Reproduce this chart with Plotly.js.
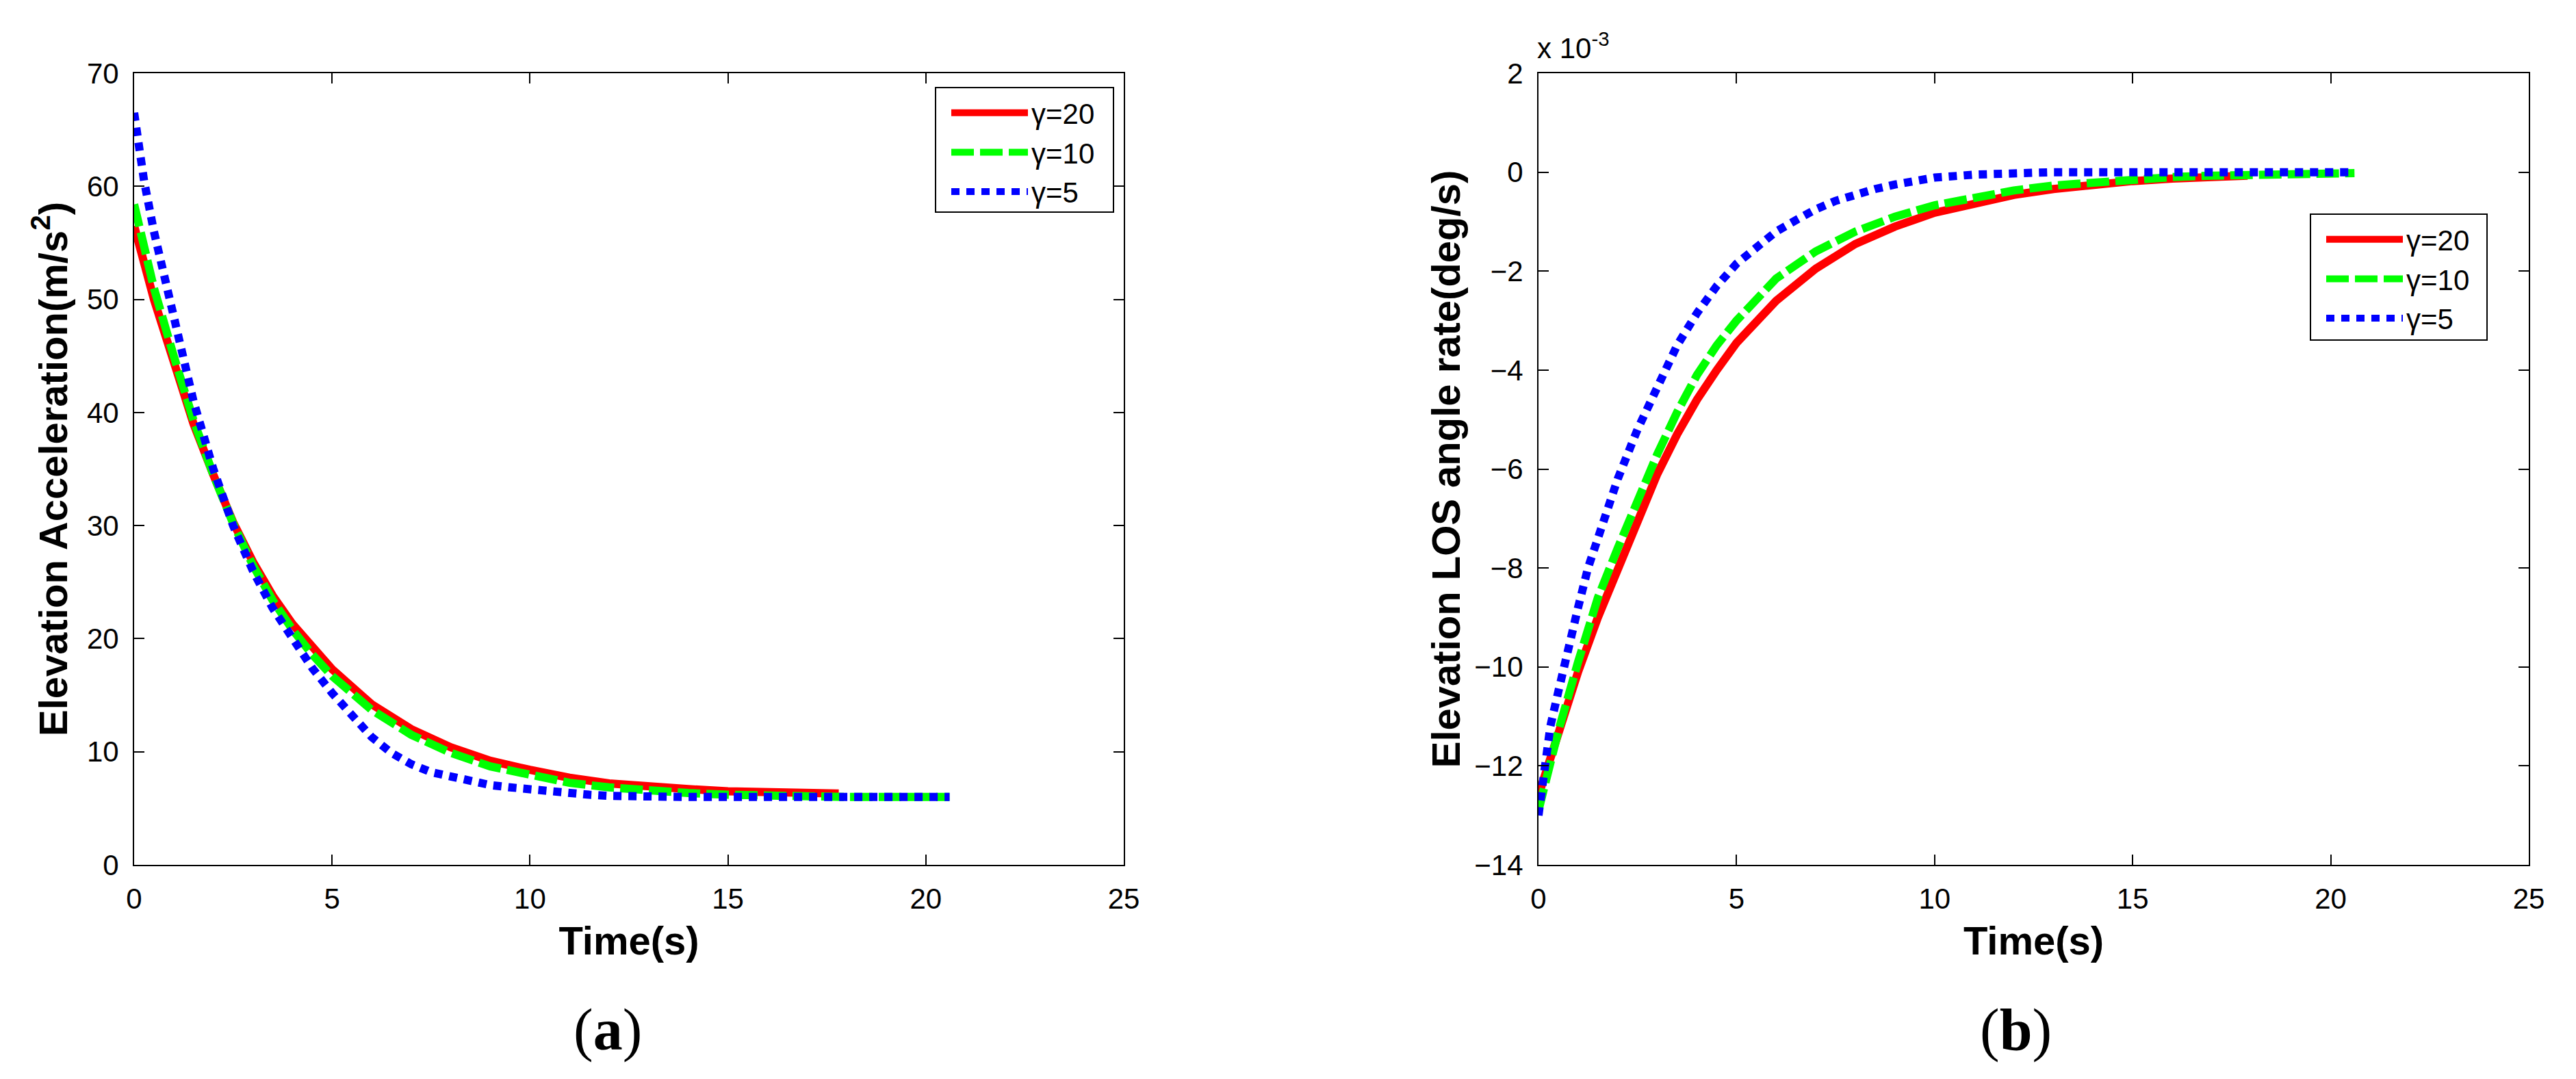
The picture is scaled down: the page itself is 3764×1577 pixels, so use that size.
<!DOCTYPE html>
<html><head><meta charset="utf-8">
<script src="https://cdn.plot.ly/plotly-3.0.1.min.js"></script>
<style>html,body{margin:0;padding:0;background:#fff}#chart{width:3764px;height:1577px}</style>
</head><body><div id="chart"></div>
<script>
// ---- data ----
const seriesNames = ['γ=20', 'γ=10', 'γ=5'];
const xTicks = [0, 5, 10, 15, 20, 25];
const yTicksA = [0, 10, 20, 30, 40, 50, 60, 70];
const yTicksB = [-14, -12, -10, -8, -6, -4, -2, 0, 2];

// (a) Elevation acceleration (m/s^2)
const tA20 = [0, 0.5, 1, 1.5, 2, 2.5, 3, 3.5, 4, 4.5, 5, 6, 7, 8, 9, 10, 11, 12, 13, 14, 15, 16, 17, 17.8];
const accA20 = [56.5, 50.0, 44.5, 39.0, 34.5, 30.3, 26.8, 23.8, 21.3, 19.2, 17.3, 14.2, 12.0, 10.4, 9.2, 8.4, 7.7, 7.2, 6.9, 6.7, 6.5, 6.4, 6.35, 6.3];
const tA10 = [0, 0.5, 1, 1.5, 2, 2.5, 3, 3.5, 4, 4.5, 5, 6, 7, 8, 9, 10, 11, 12, 13, 14, 15, 16, 17, 18, 19, 20.6];
const accA10 = [58.4, 51.0, 45.0, 39.3, 34.5, 30.2, 26.5, 23.4, 20.8, 18.6, 16.7, 13.7, 11.5, 9.9, 8.7, 7.9, 7.25, 6.85, 6.55, 6.35, 6.2, 6.1, 6.05, 6.0, 6.0, 6.0];
const tA5 = [0, 0.25, 0.5, 0.75, 1, 1.5, 2, 2.5, 3, 3.5, 4, 4.5, 5, 5.5, 6, 6.5, 7, 7.5, 8, 8.5, 9, 9.5, 10, 10.5, 11, 11.5, 12, 13, 14, 16, 18, 20.6];
const accA5 = [66.5, 60.5, 56.0, 52.0, 48.5, 41.0, 35.0, 30.0, 26.0, 22.7, 20.0, 17.4, 15.2, 13.2, 11.3, 9.9, 8.9, 8.2, 7.8, 7.4, 7.05, 6.85, 6.65, 6.45, 6.3, 6.2, 6.1, 6.02, 6.0, 6.0, 6.0, 6.0];

// (b) Elevation LOS angle rate (x 10^-3 deg/s)
const tB20 = [0, 0.5, 1, 1.5, 2, 2.5, 3, 3.5, 4, 4.5, 5, 6, 7, 8, 9, 10, 11, 12, 13, 14, 15, 16, 17, 17.9];
const rateB20 = [-12.6, -11.3, -10.1, -9.0, -8.0, -7.0, -6.1, -5.3, -4.6, -4.0, -3.45, -2.6, -1.95, -1.45, -1.1, -0.82, -0.62, -0.46, -0.34, -0.25, -0.18, -0.13, -0.09, -0.07];
const tB10 = [0, 0.5, 1, 1.5, 2, 2.5, 3, 3.5, 4, 4.5, 5, 6, 7, 8, 9, 10, 11, 12, 13, 14, 15, 16, 17, 18, 19, 20.6];
const rateB10 = [-12.9, -11.3, -9.9, -8.6, -7.6, -6.6, -5.7, -4.85, -4.1, -3.5, -3.0, -2.15, -1.6, -1.2, -0.9, -0.67, -0.5, -0.37, -0.27, -0.2, -0.14, -0.1, -0.07, -0.05, -0.03, -0.02];
const tB5 = [0, 0.15, 0.3, 0.5, 0.75, 1, 1.25, 1.5, 2, 2.5, 3, 3.5, 4, 4.5, 5, 5.5, 6, 6.5, 7, 7.5, 8, 8.5, 9, 9.5, 10, 11, 12, 13, 15, 17, 19, 20.6];
const rateB5 = [-13.0, -12.0, -11.2, -10.5, -9.6, -8.8, -8.0, -7.4, -6.2, -5.2, -4.3, -3.5, -2.85, -2.3, -1.85, -1.5, -1.2, -0.97, -0.75, -0.58, -0.45, -0.34, -0.25, -0.17, -0.11, -0.05, -0.01, 0, 0, 0, 0, 0];

// ---- styling ----
const W = 3764, H = 1577;
const M = {l: 196, r: W - 3695, t: 107, b: H - 1264};
const PW = W - M.l - M.r, PH = H - M.t - M.b;
const px2x = p => (p - M.l) / PW;
const py2y = p => (H - M.b - p) / PH;

const SANS = 'Liberation Sans, Arial, Helvetica, sans-serif';
const SERIF = 'Liberation Serif, Times New Roman, serif';
const styles = [
  {color: '#ff0000', dash: 'solid'},
  {color: '#00ff00', dash: '33px,9px'},
  {color: '#0000ff', dash: '12px,10px'}
];
const LW = 12;

function mk(x, y, i, xa, ya, lg) {
  return {x: x, y: y, type: 'scatter', mode: 'lines', name: seriesNames[i],
    xaxis: xa, yaxis: ya, legend: lg,
    line: {color: styles[i].color, width: LW, dash: styles[i].dash}};
}
const traces = [
  mk(tA20, accA20, 0, 'x', 'y', 'legend'),
  mk(tA10, accA10, 1, 'x', 'y', 'legend'),
  mk(tA5, accA5, 2, 'x', 'y', 'legend'),
  mk(tB20, rateB20, 0, 'x2', 'y2', 'legend2'),
  mk(tB10, rateB10, 1, 'x2', 'y2', 'legend2'),
  mk(tB5, rateB5, 2, 'x2', 'y2', 'legend2')
];

const tickFont = {family: SANS, size: 42, color: '#000'};
const titleFont = {family: SANS, size: 58, color: '#000', weight: 'bold'};
function axis(extra) {
  return Object.assign({
    showline: true, linecolor: '#000', linewidth: 2, mirror: 'ticks',
    ticks: 'inside', ticklen: 15, tickwidth: 2, tickcolor: '#000',
    showgrid: false, zeroline: false, tickfont: tickFont, ticklabelstandoff: 12
  }, extra);
}
const legendBase = {
  font: {family: SANS, size: 42, color: '#000'},
  bordercolor: '#000', borderwidth: 0, bgcolor: 'rgba(0,0,0,0)',
  itemwidth: 112, xanchor: 'left', yanchor: 'top', tracegroupgap: 0
};
function box(x0, x1, y0, y1) {
  return {type: 'rect', xref: 'paper', yref: 'paper', x0: px2x(x0), x1: px2x(x1),
    y0: py2y(y1), y1: py2y(y0), line: {color: '#000', width: 2}, fillcolor: '#fff', layer: 'above'};
}

const layout = {
  width: W, height: H, margin: M, paper_bgcolor: '#fff', plot_bgcolor: '#fff',
  xaxis: axis({domain: [0, px2x(1642)], anchor: 'y', range: [0, 25], tickvals: xTicks,
    title: {text: 'Time(s)', font: titleFont, standoff: 18}}),
  yaxis: axis({domain: [0, 1], anchor: 'x', range: [0, 70], tickvals: yTicksA,
    title: {text: 'Elevation Acceleration(m/s<sup>2</sup>)', font: titleFont, standoff: 10}}),
  xaxis2: axis({domain: [px2x(2248), 1], anchor: 'y2', range: [0, 25], tickvals: xTicks,
    title: {text: 'Time(s)', font: titleFont, standoff: 18}}),
  yaxis2: axis({domain: [0, 1], anchor: 'x2', range: [-14, 2], tickvals: yTicksB,
    title: {text: 'Elevation LOS angle rate(deg/s)', font: titleFont, standoff: 2}}),
  showlegend: true,
  legend: Object.assign({}, legendBase, {x: px2x(1385), y: py2y(131)}),
  legend2: Object.assign({}, legendBase, {x: px2x(3394), y: py2y(316)}),
  shapes: [box(1367, 1627, 128, 310), box(3376, 3634, 313, 497)],
  annotations: [
    {text: 'x 10<sup>-3</sup>', xref: 'paper', yref: 'paper', x: px2x(2244), y: py2y(96),
     xanchor: 'left', yanchor: 'bottom', showarrow: false, font: tickFont},
    {text: '(<b>a</b>)', xref: 'paper', yref: 'paper', x: px2x(888), y: py2y(1555),
     xanchor: 'center', yanchor: 'bottom', showarrow: false, font: {family: SERIF, size: 86, color: '#000'}},
    {text: '(<b>b</b>)', xref: 'paper', yref: 'paper', x: px2x(2945), y: py2y(1555),
     xanchor: 'center', yanchor: 'bottom', showarrow: false, font: {family: SERIF, size: 86, color: '#000'}}
  ]
};

Plotly.newPlot('chart', traces, layout, {staticPlot: true, displayModeBar: false});
</script>
</body></html>
